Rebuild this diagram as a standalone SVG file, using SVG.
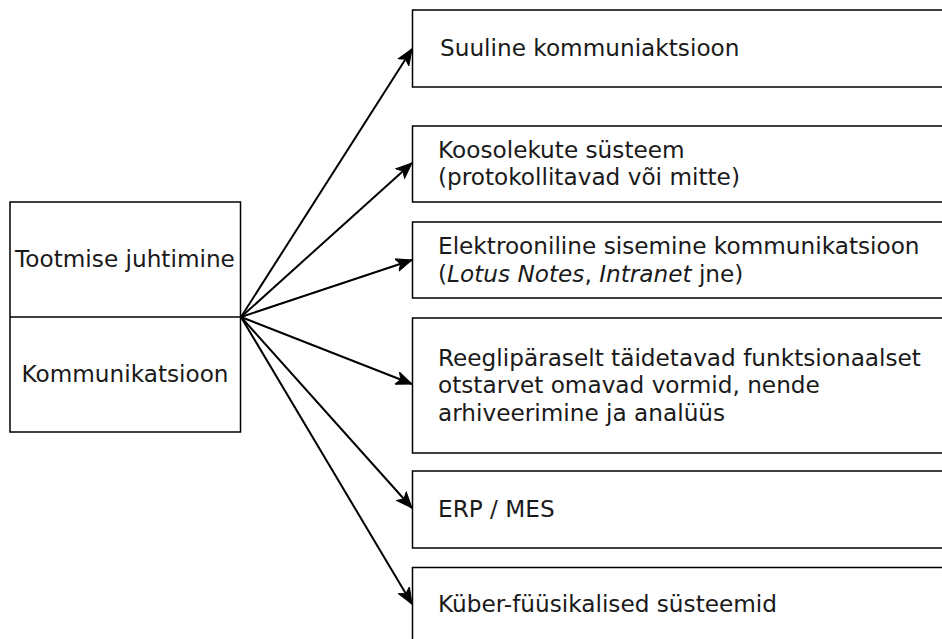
<svg xmlns="http://www.w3.org/2000/svg" width="942" height="639" viewBox="0 0 942 639">
<style>
.box{fill:#fff;stroke:#000;stroke-width:1.5}
.t{font-family:"DejaVu Sans",Verdana,sans-serif;font-size:23.2px;fill:#1a1a1a}
.c{text-anchor:middle}
.e{stroke:#000;stroke-width:2;fill:none;marker-end:url(#arr)}
</style>
<defs>
<marker id="arr" markerUnits="userSpaceOnUse" markerWidth="20" markerHeight="16" viewBox="-16 -8 20 16" refX="0" refY="0" orient="auto">
<path d="M0,0 L-16,-6.5 L-12,0 L-16,6.5 Z" fill="#000" stroke="#000" stroke-width="1"/>
</marker>
</defs>
<rect width="942" height="639" fill="#fff"/>
<g id="edges">
<line class="e" x1="241" y1="317" x2="412" y2="49"/>
<line class="e" x1="241" y1="317" x2="412" y2="163"/>
<line class="e" x1="241" y1="317" x2="412" y2="260"/>
<line class="e" x1="241" y1="317" x2="412" y2="384"/>
<line class="e" x1="241" y1="317" x2="412" y2="508"/>
<line class="e" x1="241" y1="317" x2="412" y2="604"/>
</g>
<g id="left">
<rect class="box" x="10" y="202" width="230.5" height="230"/>
<line x1="10" y1="317" x2="240.5" y2="317" stroke="#000" stroke-width="1.5"/>
<text class="t c" x="125" y="267">Tootmise juhtimine</text>
<text class="t c" x="125" y="382">Kommunikatsioon</text>
</g>
<g id="n1">
<rect class="box" x="412.5" y="10" width="560" height="77"/>
<text class="t" x="440" y="56">Suuline kommuniaktsioon</text>
</g>
<g id="n2">
<rect class="box" x="412.5" y="126" width="560" height="76"/>
<text class="t" x="438" y="157.5">Koosolekute süsteem</text>
<text class="t" x="438" y="185">(protokollitavad või mitte)</text>
</g>
<g id="n3">
<rect class="box" x="412.5" y="222" width="560" height="76"/>
<text class="t" x="438" y="254">Elektrooniline sisemine kommunikatsioon</text>
<text class="t" x="438" y="281.5">(<tspan font-style="italic">Lotus Notes</tspan>, <tspan font-style="italic">Intranet</tspan> jne)</text>
</g>
<g id="n4">
<rect class="box" x="412.5" y="318" width="560" height="135"/>
<text class="t" x="438" y="365.5">Reeglipäraselt täidetavad funktsionaalset</text>
<text class="t" x="438" y="393">otstarvet omavad vormid, nende</text>
<text class="t" x="438" y="420.5">arhiveerimine ja analüüs</text>
</g>
<g id="n5">
<rect class="box" x="412.5" y="471" width="560" height="77"/>
<text class="t" x="438" y="517">ERP / MES</text>
</g>
<g id="n6">
<rect class="box" x="412.5" y="567.5" width="560" height="77"/>
<text class="t" x="438" y="612">Küber-füüsikalised süsteemid</text>
</g>
</svg>
